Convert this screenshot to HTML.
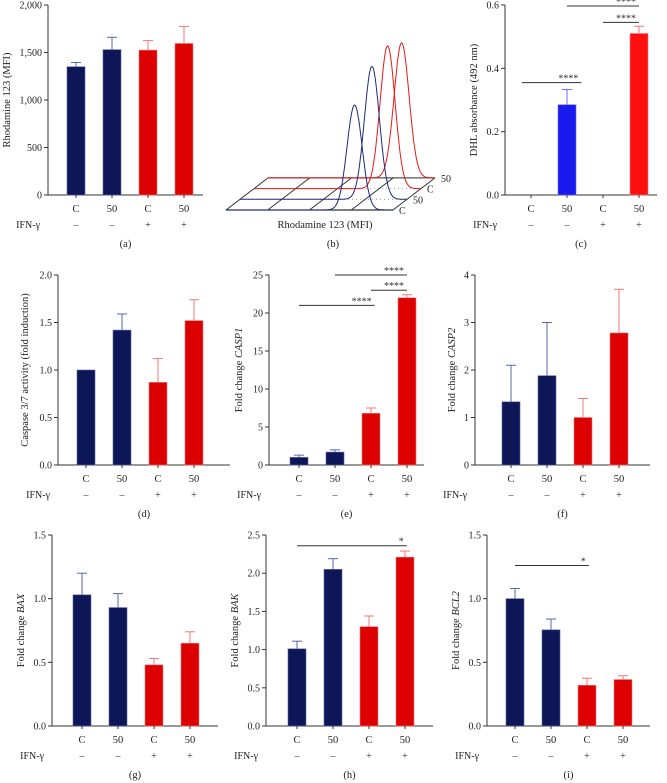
<!DOCTYPE html>
<html><head><meta charset="utf-8">
<style>
html,body{margin:0;padding:0;background:#fff;}
svg{display:block;font-family:"Liberation Serif",serif;}
</style></head>
<body>
<svg id="fig" width="667" height="783" viewBox="0 0 667 783"></svg>
<script>
const categories = ["C","50","C","50"];
const ifnSigns = ["–","–","+","+"];
const aValues=[1350,1530,1525,1595], aTops=[1395,1660,1625,1775], aTicks=[0,500,1000,1500,2000], aTickLabels=["0","500","1,000","1,500","2,000"];
const cValues=[0,0.285,0,0.51], cTops=[0,0.333,0,0.533], cTicks=[0,0.2,0.4,0.6], cTickLabels=["0.0","0.2","0.4","0.6"];
const dValues=[1.0,1.42,0.87,1.52], dTops=[1.0,1.59,1.12,1.74], dTicks=[0,0.5,1,1.5,2], dTickLabels=["0.0","0.5","1.0","1.5","2.0"];
const eValues=[1.0,1.7,6.8,22], eTops=[1.3,2.0,7.5,22.4], eTicks=[0,5,10,15,20,25], eTickLabels=["0","5","10","15","20","25"];
const fValues=[1.33,1.88,1.0,2.78], fTops=[2.1,3.0,1.4,3.7], fTicks=[0,1,2,3,4], fTickLabels=["0","1","2","3","4"];
const gValues=[1.03,0.93,0.48,0.65], gTops=[1.2,1.04,0.53,0.74], gTicks=[0,0.5,1,1.5], gTickLabels=["0.0","0.5","1.0","1.5"];
const hValues=[1.01,2.05,1.3,2.21], hTops=[1.11,2.19,1.44,2.29], hTicks=[0,0.5,1,1.5,2,2.5], hTickLabels=["0.0","0.5","1.0","1.5","2.0","2.5"];
const iValues=[1.0,0.755,0.32,0.365], iTops=[1.08,0.84,0.375,0.395], iTicks=[0,0.5,1,1.5], iTickLabels=["0.0","0.5","1.0","1.5"];
// histogram (b): peak position (0..1 along axis), peak height (relative)
const bRows=["C","50","C","50"];
const bPeaks=[0.77,0.79,0.80,0.80];
const bHeights=[1.5,1.9,2.04,1.93];

const NS="http://www.w3.org/2000/svg";
const svg=document.getElementById('fig');
function el(tag,attrs,parent,text){const e=document.createElementNS(NS,tag);for(const k in attrs)e.setAttribute(k,attrs[k]);if(text!==undefined)e.textContent=text;(parent||svg).appendChild(e);return e;}

const NAVY="#0d1656", RED="#dc0000";
function panel(o){
  const g=el('g',{});
  
  
  const ymax=o.ticks[o.ticks.length-1];
  const y=v=>o.y0-(v/ymax)*(o.y0-o.yTop);
  const x=i=>o.ax+o.off+i*36;
  const ya=el('line',{x1:o.ax,y1:o.yTop,x2:o.ax,y2:o.y0,stroke:'#333','stroke-width':1},g);
  
  const xa=el('line',{x1:o.ax,y1:o.y0,x2:o.axEnd,y2:o.y0,stroke:'#333','stroke-width':1},g);
  
  o.ticks.forEach((t,k)=>{
    el('line',{x1:o.ax-4,y1:y(t),x2:o.ax,y2:y(t),stroke:'#333'},g);
    const tl=el('text',{x:o.ax-6,y:y(t)+3.5,'font-size':10,'text-anchor':'end',fill:'#222'},g,o.labels[k]);
    
  });
  o.values.forEach((v,i)=>{
    const col=i<2?o.c1:o.c2, ecol=i<2?o.e1:o.e2;
    const cx=x(i);
    if(v>0){
      const r=el('rect',{x:cx-9,y:y(v),width:18,height:o.y0-y(v),fill:col,stroke:ecol,'stroke-width':0.6},g);
      
      if(o.tops[i]>v){
        el('line',{x1:cx,y1:y(v),x2:cx,y2:y(o.tops[i]),stroke:ecol,'stroke-width':1},g);
        el('line',{x1:cx-5,y1:y(o.tops[i]),x2:cx+5,y2:y(o.tops[i]),stroke:ecol,'stroke-width':1},g);
      }
    }
    el('line',{x1:cx,y1:o.y0,x2:cx,y2:o.y0+3,stroke:'#333'},g);
    const cl=el('text',{x:cx,y:o.y0+17,'font-size':10.5,'text-anchor':'middle',fill:'#222'},g,categories[i]);
    
    el('text',{x:cx,y:o.y0+33,'font-size':10,'text-anchor':'middle',fill:'#333'},g,ifnSigns[i]);
  });
  const ifn=el('text',{x:o.ax-8,y:o.y0+33,'font-size':10,'text-anchor':'end',fill:'#222'},g,'IFN-γ');
  
  const yl=el('text',{x:0,y:0,'font-size':10.5,'text-anchor':'middle',fill:'#222',transform:`translate(${o.ax-o.ylOff},${(o.y0+o.yTop)/2}) rotate(-90)`},g);
  
  yl.textContent=o.ytitle;
  if(o.yital){el('tspan',{'font-style':'italic'},yl,o.yital);}
  const pl=el('text',{x:(o.ax+o.axEnd)/2,y:o.y0+52,'font-size':10.5,'text-anchor':'middle',fill:'#222'},g,'('+o.id+')');
  
  (o.sig||[]).forEach(s=>{
    const yy=y(s[2]);
    const ln=el('line',{x1:x(s[0]),y1:yy,x2:x(s[1]),y2:yy,stroke:'#333','stroke-width':1},g);
    
    el('text',{x:x(s[1])-3,y:yy-1,'font-size':10,'text-anchor':'end',fill:'#333'},g,s[3]);
  });
}
const B=[NAVY,RED,'#5b66a6','#f07a7a'];
panel({id:'a',ax:48,axEnd:203,off:28,yTop:5,y0:195,ticks:aTicks,labels:aTickLabels,values:aValues,tops:aTops,c1:B[0],c2:B[1],e1:B[2],e2:B[3],ytitle:'Rhodamine 123 (MFI)',ylOff:38});
panel({id:'c',ax:505,axEnd:657,off:26,yTop:5,y0:195,ticks:cTicks,labels:cTickLabels,values:cValues,tops:cTops,c1:'#1a1aee',c2:'#ff1010',e1:'#6d6df5',e2:'#f07a7a',ytitle:'DHL absorbance (492 nm)',ylOff:28,
  sig:[[-0.25,1.4,0.355,'****'],[1,3,0.597,'****'],[2,3,0.545,'****']]});
panel({id:'d',ax:58,axEnd:230,off:28,yTop:275,y0:465,ticks:dTicks,labels:dTickLabels,values:dValues,tops:dTops,c1:B[0],c2:B[1],e1:B[2],e2:B[3],ytitle:'Caspase 3/7 activity (fold induction)',ylOff:30});
panel({id:'e',ax:269,axEnd:424,off:30,yTop:275,y0:465,ticks:eTicks,labels:eTickLabels,values:eValues,tops:eTops,c1:B[0],c2:B[1],e1:B[2],e2:B[3],ytitle:'Fold change ',yital:'CASP1',ylOff:27,
  sig:[[0,2.1,21,'****'],[1,3,25,'****'],[2,3,23,'****']]});
panel({id:'f',ax:475,axEnd:650,off:36,yTop:275,y0:465,ticks:fTicks,labels:fTickLabels,values:fValues,tops:fTops,c1:B[0],c2:B[1],e1:B[2],e2:B[3],ytitle:'Fold change ',yital:'CASP2',ylOff:20});
panel({id:'g',ax:52,axEnd:218,off:30,yTop:535,y0:726,ticks:gTicks,labels:gTickLabels,values:gValues,tops:gTops,c1:B[0],c2:B[1],e1:B[2],e2:B[3],ytitle:'Fold change ',yital:'BAX',ylOff:28});
panel({id:'h',ax:266,axEnd:433,off:31,yTop:535,y0:726,ticks:hTicks,labels:hTickLabels,values:hValues,tops:hTops,c1:B[0],c2:B[1],e1:B[2],e2:B[3],ytitle:'Fold change ',yital:'BAK',ylOff:28,
  sig:[[0,3.05,2.36,'*']]});
panel({id:'i',ax:487,axEnd:650,off:28,yTop:535,y0:726,ticks:iTicks,labels:iTickLabels,values:iValues,tops:iTops,c1:B[0],c2:B[1],e1:B[2],e2:B[3],ytitle:'Fold change ',yital:'BCL2',ylOff:28,
  sig:[[0,2.05,1.26,'*']]});

(function(){
  const g=el('g',{});
  
  
  const fx0=226, fy=210, len=167, dx=14, dy=-10.7;
  for(let r=0;r<4;r++){
    el('line',{x1:fx0+r*dx,y1:fy+r*dy,x2:fx0+r*dx+len,y2:fy+r*dy,stroke:'#999','stroke-width':1,'stroke-dasharray':'1 3'},g);
  }
  el('line',{x1:fx0,y1:fy,x2:fx0+len,y2:fy,stroke:'#333','stroke-width':1.2},g);
  el('line',{x1:fx0+3*dx,y1:fy+3*dy,x2:fx0+3*dx+len,y2:fy+3*dy,stroke:'#555','stroke-width':1.2},g);
  for(let k=0;k<=4;k++){
    const xx=fx0+k*len/4;
    el('line',{x1:xx,y1:fy,x2:xx+3*dx,y2:fy+3*dy,stroke:'#333','stroke-width':1},g);
  }
  for(let r=3;r>=0;r--){
    const bx=fx0+r*dx, by=fy+r*dy, col=r<2?'#1c2a7a':'#e81818';
    let d='';
    for(let p=0;p<=200;p++){
      const t=p/200;
      const z=(t-bPeaks[r])/0.045;
      const h=bHeights[r]*70*Math.exp(-z*z/2);
      d+=(p?'L':'M')+(bx+t*len).toFixed(1)+','+(by-h).toFixed(1);
    }
    const c=el('path',{d:d,fill:'none',stroke:col,'stroke-width':1},g);
    
    
    el('text',{x:bx+len+6,y:by+4,'font-size':10,fill:'#222'},g,bRows[r]);
  }
  const t=el('text',{x:325,y:228,'font-size':10.5,'text-anchor':'middle',fill:'#222'},g,'Rhodamine 123 (MFI)');
  
  const pl=el('text',{x:333,y:247,'font-size':10.5,'text-anchor':'middle',fill:'#222'},g,'(b)');
  
})();
</script>
</body></html>
